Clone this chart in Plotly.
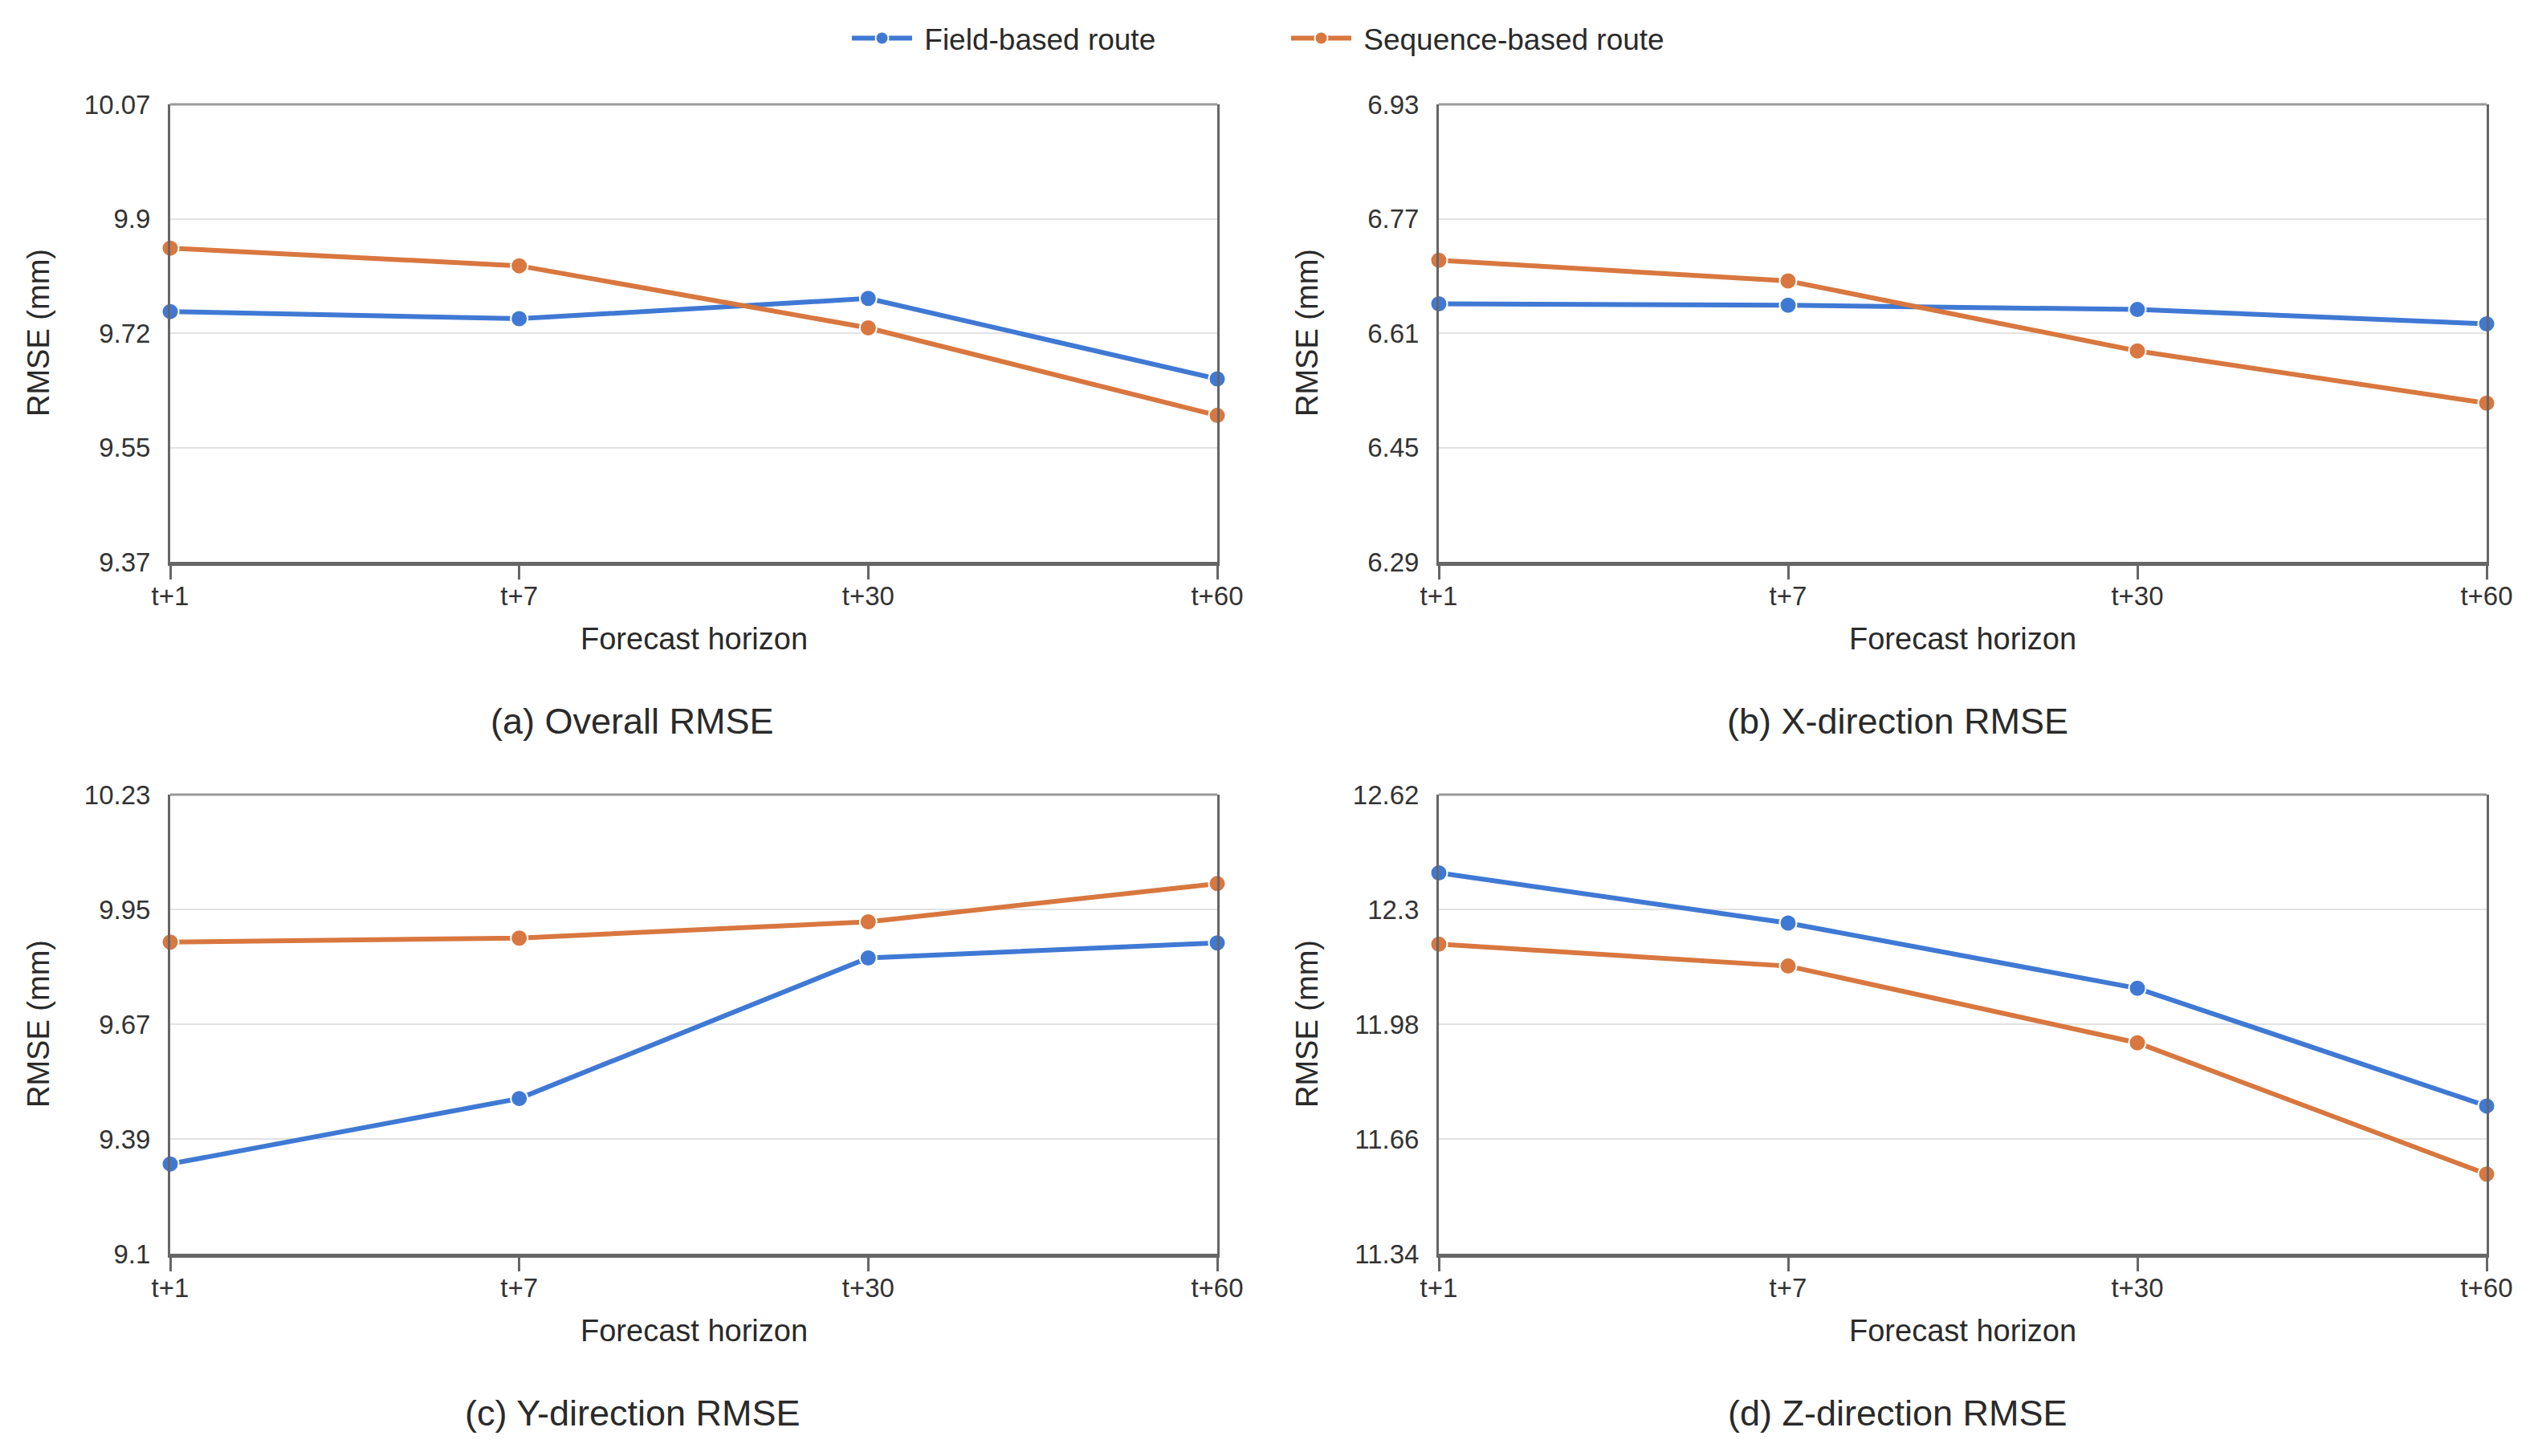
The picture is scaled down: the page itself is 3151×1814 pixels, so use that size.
import numpy as np
import plotly.graph_objects as go

# forecast horizons (shared x categories)
horizons = ["t+1", "t+7", "t+30", "t+60"]

# RMSE values (mm)
overall_field = [9.753, 9.742, 9.773, 9.650]
overall_seq = [9.850, 9.823, 9.728, 9.594]

x_field = [6.651, 6.649, 6.643, 6.623]
x_seq = [6.712, 6.683, 6.585, 6.512]

y_field = [9.321, 9.482, 9.828, 9.865]
y_seq = [9.867, 9.877, 9.917, 10.011]

z_field = [12.402, 12.262, 12.080, 11.752]
z_seq = [12.203, 12.142, 11.928, 11.562]

# y tick labels as printed on each panel
ticks_a = ["9.37", "9.55", "9.72", "9.9", "10.07"]
ticks_b = ["6.29", "6.45", "6.61", "6.77", "6.93"]
ticks_c = ["9.1", "9.39", "9.67", "9.95", "10.23"]
ticks_d = ["11.34", "11.66", "11.98", "12.3", "12.62"]

captions = ["(a) Overall RMSE", "(b) X-direction RMSE",
            "(c) Y-direction RMSE", "(d) Z-direction RMSE"]

BLUE = "#3f79d4"
ORANGE = "#d8773f"
AXIS = "#666666"
TEXT = "#2a2a2a"
FONT = "Liberation Sans, Arial, sans-serif"

W, H = 3151, 1814

# panel boxes in pixels: left, right, top, bottom
boxes = [
    (212, 1516, 130, 700),
    (1792, 3097, 130, 700),
    (212, 1516, 990, 1562),
    (1792, 3097, 990, 1562),
]

panels = [
    (overall_field, overall_seq, ticks_a),
    (x_field, x_seq, ticks_b),
    (y_field, y_seq, ticks_c),
    (z_field, z_seq, ticks_d),
]

fig = go.Figure()
layout = {}
annotations = []
shapes = []

for i, ((field, seq, tick_labels), box) in enumerate(zip(panels, boxes)):
    n = "" if i == 0 else str(i + 1)
    xa, ya = "x" + n, "y" + n
    left, right, top, bottom = box
    lo, hi = float(tick_labels[0]), float(tick_labels[-1])

    for vals, name, color in [(field, "Field-based route", BLUE),
                              (seq, "Sequence-based route", ORANGE)]:
        fig.add_trace(go.Scatter(
            x=horizons, y=vals, name="\u00a0" + name, mode="lines+markers",
            xaxis=xa, yaxis=ya, showlegend=(i == 0),
            line=dict(color=color, width=6),
            marker=dict(size=21, color=color, line=dict(color="white", width=2)),
            cliponaxis=False,
        ))

    layout["xaxis" + n] = dict(
        domain=[left / W, right / W], anchor=ya, type="category",
        range=[0, len(horizons) - 1], showgrid=False, automargin=False,
        showline=True, linecolor=AXIS, linewidth=5,
        ticks="outside", ticklen=17, tickwidth=3, tickcolor=AXIS,
        ticklabelstandoff=-8,
        tickfont=dict(size=33, color="#333333", family=FONT),
    )
    layout["yaxis" + n] = dict(
        domain=[1 - bottom / H, 1 - top / H], anchor=xa, automargin=False,
        range=[lo, hi], tickvals=list(np.linspace(lo, hi, 5)),
        ticktext=tick_labels, showgrid=True, gridcolor="#e2e2e2", gridwidth=2,
        showline=True, mirror=True, linecolor=AXIS, linewidth=3,
        ticks="", ticklabelstandoff=15, zeroline=False,
        tickfont=dict(size=33, color="#333333", family=FONT),
    )

    # lighter top border of the frame
    shapes.append(dict(type="line", xref=xa + " domain", yref=ya + " domain",
                       x0=0, x1=1, y0=1, y1=1,
                       line=dict(color="#9a9a9a", width=3)))

    cx = (left + right) / 2 / W
    annotations.append(dict(text="Forecast horizon", xref="paper", yref="paper",
                            x=cx, y=1 - (bottom + 96) / H, showarrow=False,
                            xanchor="center", yanchor="middle",
                            font=dict(size=38, color=TEXT, family=FONT)))
    annotations.append(dict(text="RMSE (mm)", xref="paper", yref="paper",
                            x=(left - 164) / W, y=1 - (top + bottom) / 2 / H,
                            textangle=-90, showarrow=False,
                            xanchor="center", yanchor="middle",
                            font=dict(size=38, color=TEXT, family=FONT)))
    half = 0.25 if i % 2 == 0 else 0.75
    annotations.append(dict(text=captions[i], xref="paper", yref="paper",
                            x=half, y=1 - (bottom + 198) / H, showarrow=False,
                            xanchor="center", yanchor="middle",
                            font=dict(size=45, color=TEXT, family=FONT)))

fig.update_layout(
    **layout,
    width=W, height=H,
    margin=dict(l=0, r=0, t=0, b=0),
    paper_bgcolor="white", plot_bgcolor="white",
    font=dict(family=FONT, color=TEXT),
    annotations=annotations,
    shapes=shapes,
    legend=dict(orientation="h", x=1056 / W, xanchor="left", y=1 - 48 / H,
                yanchor="middle", itemwidth=75, entrywidth=457,
                font=dict(size=37, color=TEXT, family=FONT)),
)

fig.write_html("out.html", config={"displayModeBar": False},
               post_script="document.body.style.margin='0';")
